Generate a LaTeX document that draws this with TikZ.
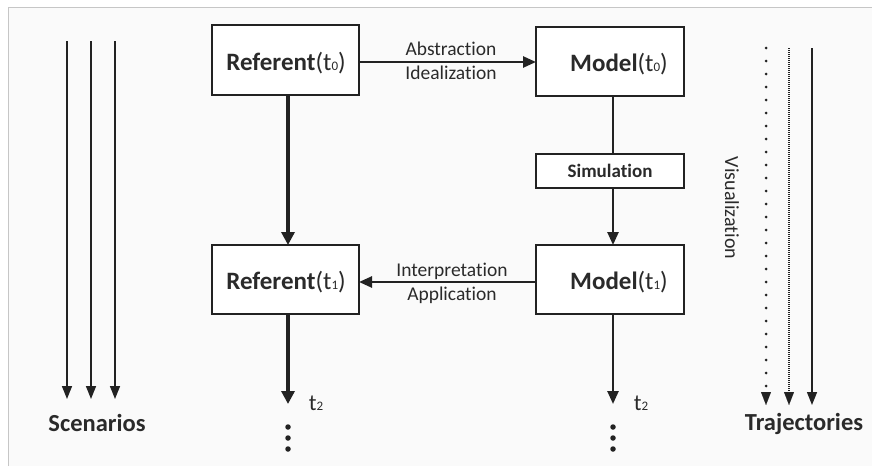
\documentclass[tikz,border=0pt]{standalone}
\usepackage{fontspec}
\setmainfont{Carlito}[Ligatures=NoCommon]
\usetikzlibrary{arrows.meta,calc}
\definecolor{ink}{HTML}{222222}
\definecolor{txt}{HTML}{2A2A2A}
\newcommand{\mysub}[1]{{\fontsize{13}{13}\selectfont #1}}
\begin{document}
\begin{tikzpicture}[x=1pt,y=-1pt,
  box/.style={draw=ink,line width=1.3pt,fill=white,inner sep=0pt},
  big/.style={font=\fontsize{25}{25}\selectfont,text=txt},
  lab/.style={font=\fontsize{19.5}{24}\selectfont,text=txt,align=center},
  side/.style={font=\bfseries\fontsize{24.5}{24.5}\selectfont,text=txt},
  thin/.style={draw=ink,line width=1.5pt,-{Triangle[length=13pt,width=10pt]}},
  tip/.style={draw=ink,line width=0.1pt,-{Triangle[length=13pt,width=10pt]}},
  med/.style={draw=ink,line width=2.5pt},
  medarr/.style={med,-{Triangle[length=13pt,width=11pt]}},
  thick/.style={draw=ink,line width=4.5pt,-{Triangle[length=13pt,width=13pt]}},
  dot/.style={circle,fill=ink,inner sep=0pt,minimum size=5.5pt}
]
\useasboundingbox (0,0) rectangle (872,466);
\fill[white] (0,0) rectangle (872,466);
\fill[white!98!black] (8,7) rectangle (872,466);
\draw[gray!45,line width=1pt] (8,466) -- (8,7) -- (872,7);

% boxes
\draw[box] (212,25) rectangle (359,95);
\coordinate (r0s) at (288,95);
\coordinate (r0e) at (359,62);
\node[big] (r0) at (286,63) {\textbf{Referent}(t\mysub{0})};

\draw[box] (536,27) rectangle (684,96);
\coordinate (m0w) at (536,62);
\coordinate (m0s) at (613,96);
\node[big] (m0) at (619,64) {\textbf{Model}(t\mysub{0})};

\node[box,minimum width=148pt,minimum height=34pt,font=\bfseries\fontsize{19}{19}\selectfont,text=txt] (sim) at (610,171) {Simulation};

\draw[box] (212,245) rectangle (359,314);
\coordinate (r1n) at (288,245);
\coordinate (r1e) at (359,282);
\coordinate (r1s) at (288,314);
\node[big] (r1) at (286,282) {\textbf{Referent}(t\mysub{1})};

\draw[box] (536,245) rectangle (684,314);
\coordinate (m1n) at (613,245);
\coordinate (m1w) at (536,282);
\coordinate (m1s) at (613,314);
\node[big] (m1) at (619,282) {\textbf{Model}(t\mysub{1})};

% horizontal arrows
\draw[medarr] (r0e) -- (m0w);
\node[lab] (abs) at (451,61) {Abstraction\\Idealization};
\draw[medarr] (m1w) -- (r1e);
\node[lab] (int) at (452,283) {Interpretation\\Application};

% vertical
\draw[thick] (r0s) -- (r1n);
\draw[med] (m0s) -- (sim.north -| m0s);
\draw[medarr] (sim.south -| m0s) -- (m1n);
\coordinate (r2) at (288,404);
\coordinate (m2) at (613,404);
\draw[thick] (r1s) -- (r2);
\draw[medarr] (m1s) -- (m2);
\node[font=\fontsize{23}{23}\selectfont,text=txt] (t2a) at (316,403) {t\mysub{2}};
\node[font=\fontsize{23}{23}\selectfont,text=txt] (t2b) at (641,403) {t\mysub{2}};
\foreach \y [count=\i] in {427,438,449}{
  \node[dot] (da\i) at (288,\y) {};
  \node[dot] (db\i) at (613,\y) {};
}

% scenarios
\foreach \x [count=\i] in {67,91,115}{
  \coordinate (sa\i) at (\x,41);
  \coordinate (sb\i) at (\x,399);
  \draw[thin] (sa\i) -- (sb\i);
}
\node[side] (scen) at (97,423) {Scenarios};

% trajectories
\coordinate (ta1) at (766,48); \coordinate (tc1) at (766,392); \coordinate (tb1) at (766,405);
\coordinate (ta2) at (789,48); \coordinate (tc2) at (789,392); \coordinate (tb2) at (789,405);
\coordinate (ta3) at (812,48); \coordinate (tb3) at (812,405);
\draw[ink,line width=3pt,line cap=round,dash pattern=on 0pt off 13pt] (ta1) -- (tc1);
\draw[tip] (tc1) -- (tb1);
\draw[ink,line width=1.6pt,dash pattern=on 1pt off 1pt] (ta2) -- (tc2);
\draw[tip] (tc2) -- (tb2);
\draw[thin] (ta3) -- (tb3);
\node[side] (traj) at (804,424) {Trajectories};
\node[font=\fontsize{20}{20}\selectfont,text=txt,rotate=-90] (vis) at (732,208) {Visualization};
\end{tikzpicture}
\end{document}
